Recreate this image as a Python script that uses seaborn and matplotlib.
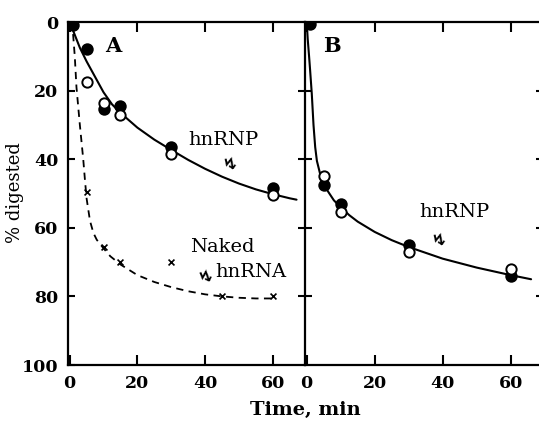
import matplotlib
matplotlib.use("Agg")
import matplotlib.pyplot as plt
import seaborn as sns

sns.set_theme(style="white")
plt.rcParams['font.family'] = ['DejaVu Serif', 'DejaVu Sans']
plt.rcParams['text.color'] = 'black'
plt.rcParams['axes.labelcolor'] = 'black'
plt.rcParams['xtick.color'] = 'black'
plt.rcParams['ytick.color'] = 'black'

# ---- data ----
a_time_filled = [1, 5, 10, 15, 30, 60]
a_filled = [1, 8, 25.5, 24.5, 36.5, 48.5]
a_time_open = [5, 10, 15, 30, 60]
a_open = [17.5, 23.5, 27, 38.5, 50.5]
a_time_naked = [5, 10, 15, 30, 45, 60]
a_naked = [49.5, 65.5, 70, 70, 80, 80]

a_curve_t = [0, 1, 2, 3, 5, 7.5, 10, 12.5, 15, 20, 25, 30, 35, 40, 45, 50, 55, 60, 65, 67]
a_curve_y = [0, 2.5, 5, 7.5, 11.5, 16, 20.5, 24, 26.5, 30.8, 34.3, 37.3, 40.2, 42.8, 45.1,
             47.1, 48.8, 50.2, 51.4, 51.8]
a_dash_t = [0, 0.5, 1, 1.5, 2, 3, 4, 4.5, 5, 6, 7, 8, 10, 12, 15, 20, 25, 30, 35, 40, 45,
            50, 55, 60]
a_dash_y = [0, 1, 3.5, 10, 19, 30, 40, 46, 51.5, 58, 61.5, 63.5, 66, 68.3, 70.7, 73.8, 75.8,
            77.3, 78.5, 79.4, 80, 80.4, 80.6, 80.6]

b_time_filled = [1, 5, 10, 30, 60]
b_filled = [0.5, 47.5, 53, 65, 74]
b_time_open = [5, 10, 30, 60]
b_open = [45, 55.5, 67, 72]
b_curve_t = [0, 0.3, 0.7, 1, 1.5, 2, 2.5, 3, 4, 5, 6, 8, 10, 12.5, 15, 20, 25, 30, 40, 50,
             60, 66]
b_curve_y = [0, 5, 10, 14, 21, 30, 36.5, 40.5, 44.5, 47, 49, 52, 54, 56.3, 58.2, 61.2, 63.6,
             65.6, 69, 71.6, 73.8, 75]

xticks = [0, 20, 40, 60]
yticks = [0, 20, 40, 60, 80, 100]

W, H = 539, 423
fig = plt.figure(figsize=(W / 100, H / 100), dpi=100)
axA = fig.add_axes([68 / W, 1 - 365 / H, (305 - 68) / W, (365 - 22) / H])
axB = fig.add_axes([305 / W, 1 - 365 / H, 238 / W, (365 - 22) / H])

tick_font = dict(fontsize=12.5, fontweight='bold')

for ax in (axA, axB):
    ax.set_xlim(-0.5, 69.5)
    ax.set_ylim(100, 0)
    ax.set_xticks(xticks)
    ax.set_xticklabels([str(v) for v in xticks], **tick_font)
    for s in ax.spines.values():
        s.set_linewidth(1.6)
        s.set_color('black')
    ax.tick_params(axis='x', direction='in', length=7, width=1.5, top=True, bottom=True,
                   pad=7, colors='black')
    ax.set_facecolor('white')

# Panel A
axA.spines['right'].set_visible(False)
axA.set_yticks(yticks)
axA.set_yticklabels([str(v) for v in yticks], **tick_font)
axA.tick_params(axis='y', direction='in', length=5, width=1.5, left=True, right=False, pad=7)

sns.lineplot(x=a_curve_t, y=a_curve_y, ax=axA, color='black', lw=1.5, sort=False, estimator=None)
sns.lineplot(x=a_dash_t, y=a_dash_y, ax=axA, color='black', lw=1.3, sort=False, estimator=None,
             linestyle=(0, (4, 3)))
sns.scatterplot(x=a_time_filled, y=a_filled, ax=axA, marker='o', s=60, color='black',
                edgecolor='black', linewidth=1.2, zorder=5)
sns.scatterplot(x=a_time_open, y=a_open, ax=axA, marker='o', s=55, color='white',
                edgecolor='black', linewidth=1.4, zorder=6)
sns.scatterplot(x=a_time_naked, y=a_naked, ax=axA, marker='x', s=18, color='black',
                linewidth=1.2, zorder=5)

ann = dict(fontsize=14, ha='center', va='center', color='black')
sq = dict(fontsize=12, ha='center', va='center', family='DejaVu Sans', fontweight='bold',
          color='black')
axA.text(13, 7, 'A', fontsize=15, fontweight='bold', ha='center', va='center')
axA.text(45.5, 34.5, 'hnRNP', **ann)
axA.text(47.5, 41.5, '↯', rotation=20, **sq)
axA.text(45, 65.5, 'Naked', **ann)
axA.text(53.5, 73, 'hnRNA', **ann)
axA.text(40.5, 74, '↯', rotation=30, **sq)

# Panel B
axB.set_yticks(yticks[1:-1])
axB.set_yticklabels([])
axB.tick_params(axis='y', direction='inout', length=10, width=1.5, left=True, right=True,
                labelleft=False)

sns.lineplot(x=b_curve_t, y=b_curve_y, ax=axB, color='black', lw=1.5, sort=False, estimator=None)
sns.scatterplot(x=b_time_filled, y=b_filled, ax=axB, marker='o', s=60, color='black',
                edgecolor='black', linewidth=1.2, zorder=5)
sns.scatterplot(x=b_time_open, y=b_open, ax=axB, marker='o', s=55, color='white',
                edgecolor='black', linewidth=1.4, zorder=6)

axB.text(7.5, 7, 'B', fontsize=15, fontweight='bold', ha='center', va='center')
axB.text(43.5, 55.5, 'hnRNP', **ann)
axB.text(39, 63.5, '↯', rotation=20, **sq)

axA.set_ylabel('')
fig.text(15 / W, 1 - 193 / H, '% digested', fontsize=13, rotation=90, ha='center',
         va='center')
fig.text(305 / W, 1 - 410 / H, 'Time, min', fontsize=14, fontweight='bold', ha='center',
         va='center')
axA.set_xlabel('')
axB.set_xlabel('')
axB.set_ylabel('')

fig.savefig('out.png', dpi=100, facecolor='white')
